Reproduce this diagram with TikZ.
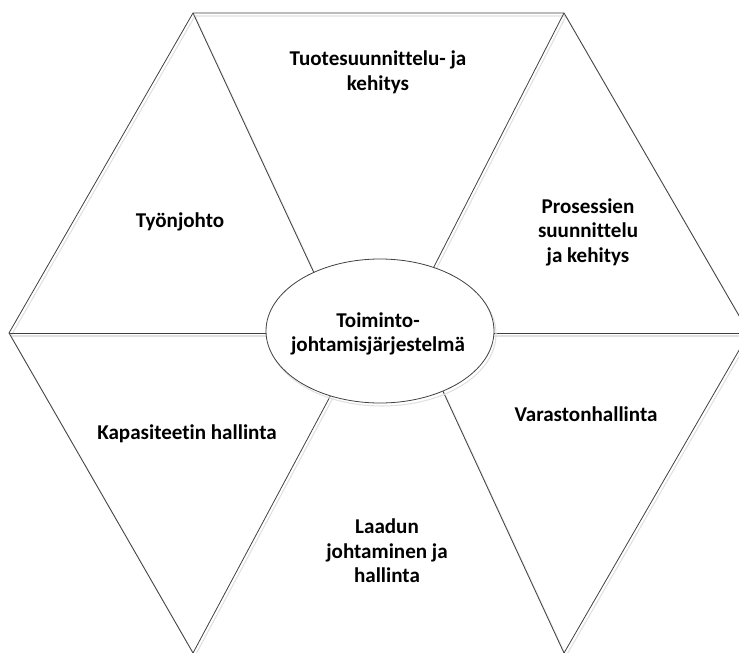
\documentclass[tikz,border=0pt]{standalone}
\usepackage{fontspec}
\setmainfont{Carlito}[Ligatures=NoCommon]
\usepackage{tikz}
\usetikzlibrary{shapes,shapes.geometric,calc}

\begin{document}
\begin{tikzpicture}[x=0.75pt,y=-0.75pt]
			\tikzstyle{spoke}=[draw=black!75, line width=0.6pt]
			\tikzstyle{shade}=[draw=black!12, line width=0.8pt]
			\tikzstyle{label}=[align=center, font=\fontsize{15.8}{18.4}\selectfont\bfseries, inner sep=0pt]
			\useasboundingbox (0,0) rectangle (739,653);
			% outer corners of the hexagon
			\coordinate (tl) at (193,13);
			\coordinate (tr) at (564,13);
			\coordinate (r) at (749,333);
			\coordinate (br) at (564,653);
			\coordinate (bl) at (193,653);
			\coordinate (l) at (9,333);
			% inner ends, hidden by the ellipse
			\coordinate (itl) at (342,333);
			\coordinate (itr) at (400,333);
			\coordinate (ir) at (380,333);
			\coordinate (ibr) at (416,333);
			\coordinate (ibl) at (364,333);
			\coordinate (il) at (380,333);
			% light shadow
			\draw[shade] ($(tl)+(2,3)$) -- ($(tr)+(2,3)$) -- ($(r)+(2,3)$) -- ($(br)+(2,3)$);
			\draw[shade] ($(tl)+(2,3)$) -- ($(l)+(2,3)$) -- ($(bl)+(2,3)$);
			\foreach \o/\i in {tl/itl,tr/itr,r/ir,br/ibr,bl/ibl,l/il}
				\draw[shade] ($(\o)+(2,3)$) -- ($(\i)+(2,3)$);
			% hexagon and spokes
			\draw[spoke] (l) -- (tl) -- (tr) -- (r);
			\draw[spoke] (l) -- (bl);
			\draw[spoke] (r) -- (br);
			\foreach \o/\i in {tl/itl,tr/itr,r/ir,br/ibr,bl/ibl,l/il}
				\draw[spoke] (\o) -- (\i);
			\node[ellipse, draw=black!12, line width=0.8pt, minimum width=171pt, minimum height=108pt, inner sep=0pt] at (382,334) {};
			\node (keski) [ellipse, draw=black!75, fill=white, line width=0.6pt, minimum width=171pt, minimum height=108pt, inner sep=0pt] at (380,331) {};
			\node[label] at (378,334) {Toiminto-\\johtamisjärjestelmä};
			\node (tuote) [label] at (378,72) {Tuotesuunnittelu- ja\\kehitys};
			\node (prosessi) [label] at (588,232) {Prosessien\\suunnittelu\\ja kehitys};
			\node (varasto) [label] at (586,414) {Varastonhallinta};
			\node (laatu) [label] at (387,551) {Laadun\\johtaminen ja\\hallinta};
			\node (kapasiteetti) [label] at (187,434) {Kapasiteetin hallinta};
			\node (tyonjohto) [label] at (180,222) {Työnjohto};
		\end{tikzpicture}
\end{document}
